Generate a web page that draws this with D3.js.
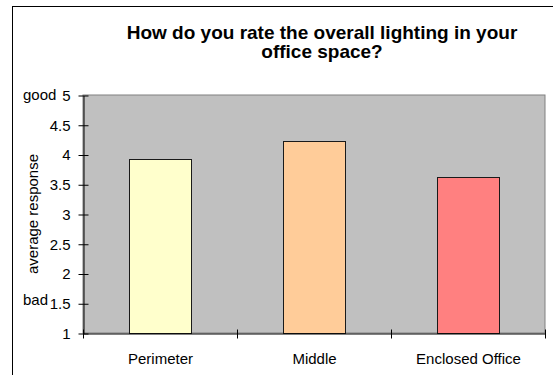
<!DOCTYPE html>
<html><head><meta charset="utf-8">
<script src="https://cdn.jsdelivr.net/npm/d3@7"></script>
<style>body{margin:0;background:#fff}svg{display:block}</style>
</head><body>
<svg id="c" width="553" height="375"></svg>
<script>
const categories = ["Perimeter", "Middle", "Enclosed Office"];
const values = [3.92, 4.22, 3.62];
const barColors = ["#ffffcc", "#ffcc99", "#ff8080"];
const yTicks = [1, 1.5, 2, 2.5, 3, 3.5, 4, 4.5, 5];
const titleLines = ["How do you rate the overall lighting in your", "office space?"];
const yTitle = "average response";
const yAnchors = [{label: "good", v: 5}, {label: "bad", v: 1.5}];

const svg = d3.select("#c");
const font = "Liberation Sans, Arial, Helvetica, sans-serif";
const m = {left: 83, right: 545, top: 95, bottom: 333};

// outer frame
svg.append("rect").attr("x", 12.5).attr("y", 6.5).attr("width", 700).attr("height", 500)
  .attr("fill", "none").attr("stroke", "#000").attr("stroke-width", 1);

const x = d3.scaleBand().domain(categories).range([m.left, m.right]).paddingInner(0.6).paddingOuter(0.3);
const xb = d3.scaleBand().domain(categories).range([m.left, m.right]);
const y = d3.scaleLinear().domain([1, 5]).range([m.bottom, m.top]);

// plot area
svg.append("rect").attr("x", m.left).attr("y", m.top).attr("width", m.right - m.left).attr("height", m.bottom - m.top)
  .attr("fill", "#c0c0c0").attr("stroke", "#808080").attr("stroke-width", 1);

// bars
svg.selectAll(".bar").data(values).join("rect")
  .attr("x", (d, i) => Math.round(x(categories[i])) + 0.5)
  .attr("y", d => Math.round(y(d)) + 0.5)
  .attr("width", Math.round(x.bandwidth()))
  .attr("height", d => Math.round(y(1)) - Math.round(y(d)))
  .attr("fill", (d, i) => barColors[i])
  .attr("stroke", "#1a1a1a").attr("stroke-width", 1);

// y axis
const ya = svg.append("g").attr("transform", `translate(${m.left + 0.5},0.5)`)
  .call(d3.axisLeft(y).tickValues(yTicks).tickFormat(d3.format("")).tickSize(5).tickSizeOuter(0).tickPadding(8));
ya.selectAll(".tick line").attr("x2", -5).attr("x1", 5);
ya.selectAll("text").attr("font-family", font).attr("font-size", 15).attr("fill", "#000");
ya.select(".domain").attr("stroke", "#000");

// x axis
const xa = svg.append("g").attr("transform", `translate(0.5,${m.bottom + 0.5})`)
  .call(d3.axisBottom(xb).tickSize(0).tickPadding(20));
xa.selectAll("text").attr("font-family", font).attr("font-size", 15).attr("fill", "#000");
xa.select(".domain").attr("stroke", "#000");
const xTickPos = categories.map(c => xb(c)).concat([m.right]);
xa.selectAll(".xt").data(xTickPos).join("line")
  .attr("x1", d => Math.round(d)).attr("x2", d => Math.round(d)).attr("y1", -4).attr("y2", 5)
  .attr("stroke", "#000");

// y anchor words
svg.selectAll(".anch").data(yAnchors).join("text")
  .attr("x", 23).attr("y", d => y(d.v) + (d.label === "bad" ? 2 : 5))
  .attr("font-family", font).attr("font-size", 15).text(d => d.label);

// y title
svg.append("text").attr("transform", `translate(38,${(m.top + m.bottom) / 2}) rotate(-90)`)
  .attr("text-anchor", "middle").attr("font-family", font).attr("font-size", 15).text(yTitle);

// title
svg.append("text").attr("x", 322).attr("y", 39).attr("text-anchor", "middle")
  .attr("font-family", font).attr("font-size", 19).attr("font-weight", "bold")
  .selectAll("tspan").data(titleLines).join("tspan")
  .attr("x", 322).attr("dy", (d, i) => i === 0 ? 0 : 19).text(d => d);
</script>
</body></html>
